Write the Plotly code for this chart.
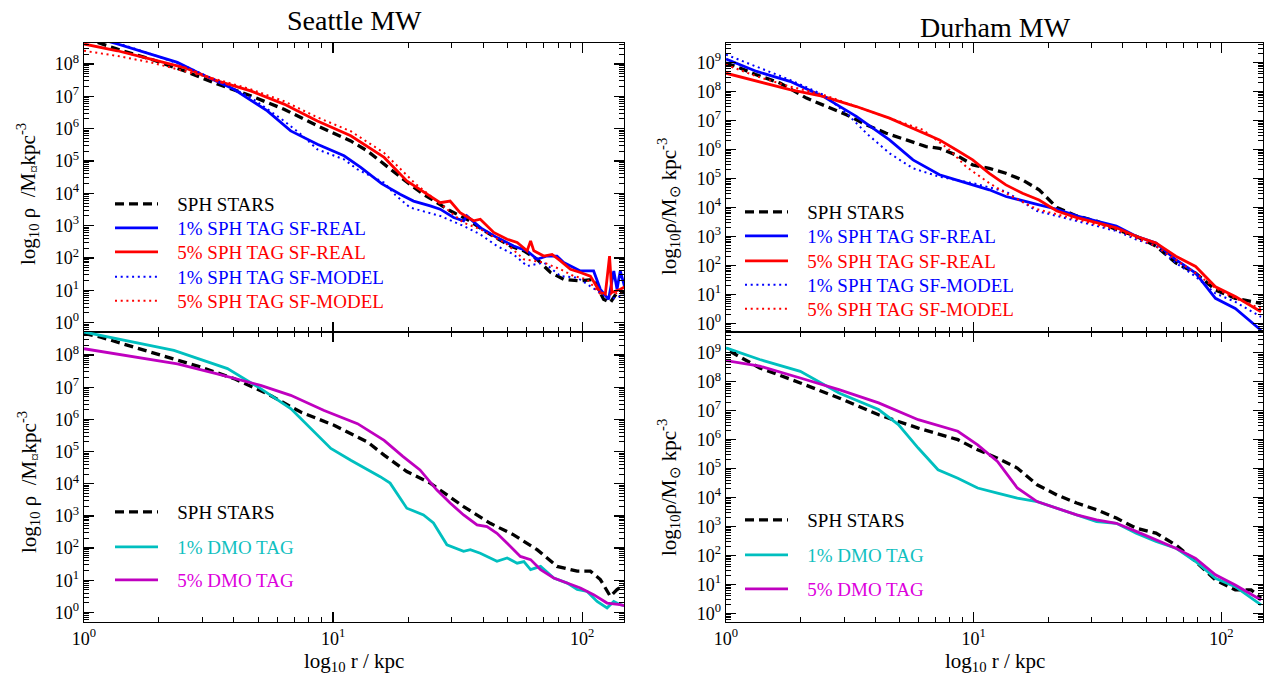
import numpy as np
import plotly.graph_objects as go

# ------------------------------------------------------------------
# DATA  (log10 r [kpc], log10 rho [Msun kpc^-3])
# ------------------------------------------------------------------
# Seattle MW - upper panel (SPH tags)
sea_top_sph_logr = [0.0, 0.054, 0.134, 0.268, 0.402, 0.535, 0.669, 0.803, 0.937, 1.071, 1.138, 1.205, 1.296, 1.363,
                    1.470, 1.537, 1.631, 1.712, 1.766, 1.819, 1.873, 1.926, 1.993, 2.046, 2.086, 2.113, 2.140, 2.177]
sea_top_sph_logrho = [8.75, 8.67, 8.46, 8.15, 7.79, 7.38, 7.02, 6.60, 6.09, 5.62, 5.31, 4.90, 4.35, 3.97,
                      3.46, 3.20, 2.73, 2.37, 2.22, 1.96, 1.55, 1.34, 1.29, 1.34, 0.72, 0.62, 0.93, 0.93]

sea_top_b1_logr = [0.0, 0.067, 0.134, 0.268, 0.375, 0.469, 0.602, 0.736, 0.830, 0.937, 1.044, 1.111, 1.195, 1.269,
                   1.323, 1.390, 1.430, 1.484, 1.524, 1.537, 1.591, 1.658, 1.725, 1.779, 1.819, 1.859, 1.899, 1.926,
                   1.993, 2.046, 2.073, 2.106, 2.127, 2.140, 2.153, 2.177]
sea_top_b1_logrho = [8.85, 8.77, 8.62, 8.31, 8.05, 7.69, 7.22, 6.55, 5.93, 5.52, 5.16, 4.80, 4.30, 3.97,
                     3.76, 3.61, 3.51, 3.25, 3.15, 3.30, 2.94, 2.63, 2.37, 2.22, 1.96, 2.06, 2.06, 1.86,
                     1.60, 1.60, 1.03, 0.72, 1.60, 1.03, 1.60, 0.93]

sea_top_r5_logr = [0.0, 0.134, 0.268, 0.402, 0.535, 0.669, 0.803, 0.937, 1.071, 1.205, 1.296, 1.363, 1.430, 1.470,
                   1.510, 1.564, 1.591, 1.645, 1.699, 1.739, 1.779, 1.793, 1.806, 1.846, 1.879, 1.913, 1.953, 1.993,
                   2.033, 2.073, 2.093, 2.110, 2.119, 2.153, 2.177]
sea_top_r5_logrho = [8.62, 8.41, 8.15, 7.89, 7.48, 7.17, 6.76, 6.24, 5.78, 5.11, 4.38, 4.04, 3.71, 3.76,
                     3.40, 3.15, 3.20, 2.79, 2.58, 2.48, 2.22, 2.53, 2.22, 2.06, 2.11, 1.91, 1.65, 1.55,
                     1.44, 0.93, 0.88, 2.06, 0.93, 1.03, 1.13]

sea_top_b1m_logr = [0.0, 0.134, 0.268, 0.402, 0.535, 0.669, 0.803, 0.870, 0.937, 1.044, 1.098, 1.205, 1.250, 1.309,
                    1.430, 1.524, 1.591, 1.658, 1.725, 1.779, 1.846, 1.913, 1.980, 2.020, 2.073, 2.113, 2.177]
sea_top_b1m_logrho = [8.90, 8.65, 8.31, 7.95, 7.48, 6.97, 6.24, 5.83, 5.36, 5.05, 4.74, 4.33, 3.95, 3.56,
                      3.30, 2.99, 2.73, 2.37, 2.11, 1.75, 1.86, 1.44, 1.39, 1.19, 0.93, 0.72, 0.88]

sea_top_r5m_logr = [0.0, 0.134, 0.268, 0.402, 0.535, 0.669, 0.803, 0.937, 1.071, 1.205, 1.330, 1.457, 1.524, 1.591,
                    1.699, 1.766, 1.846, 1.913, 1.966, 2.020, 2.073, 2.127, 2.177]
sea_top_r5m_logrho = [8.41, 8.25, 8.05, 7.79, 7.52, 7.22, 6.85, 6.35, 5.92, 5.25, 4.30, 3.51, 3.09, 2.89,
                      2.42, 1.96, 1.86, 1.65, 1.44, 1.34, 0.88, 0.88, 1.03]

# Seattle MW - lower panel (DMO tags)
sea_bot_sph_logr = [0.0, 0.067, 0.20, 0.335, 0.469, 0.602, 0.736, 0.870, 1.004, 1.138, 1.205, 1.296, 1.390, 1.524,
                    1.631, 1.725, 1.819, 1.899, 1.980, 2.033, 2.073, 2.113, 2.140, 2.177]
sea_bot_sph_logrho = [8.68, 8.56, 8.25, 7.94, 7.63, 7.27, 6.80, 6.23, 5.82, 5.30, 4.89, 4.38, 4.02, 3.29,
                      2.77, 2.41, 1.95, 1.43, 1.28, 1.28, 1.02, 0.50, 0.71, 0.91]

sea_bot_c1_logr = [0.0, 0.134, 0.361, 0.576, 0.709, 0.830, 0.910, 0.991, 1.071, 1.189, 1.229, 1.296, 1.363, 1.403,
                   1.457, 1.524, 1.551, 1.591, 1.658, 1.699, 1.739, 1.766, 1.793, 1.833, 1.886, 1.940, 1.980, 2.020,
                   2.060, 2.100, 2.127, 2.153, 2.177]
sea_bot_c1_logrho = [8.72, 8.51, 8.15, 7.58, 6.96, 6.34, 5.72, 5.10, 4.73, 4.22, 4.02, 3.24, 3.03, 2.78,
                     2.10, 1.90, 1.95, 1.84, 1.59, 1.69, 1.53, 1.58, 1.33, 1.43, 1.07, 0.91, 0.71, 0.65,
                     0.34, 0.14, 0.34, 0.24, 0.19]

sea_bot_m5_logr = [0.0, 0.134, 0.375, 0.535, 0.709, 0.830, 0.964, 1.098, 1.205, 1.280, 1.349, 1.416, 1.470, 1.524,
                   1.578, 1.618, 1.658, 1.699, 1.752, 1.793, 1.833, 1.886, 1.940, 1.993, 2.046, 2.100, 2.153, 2.177]
sea_bot_m5_logrho = [8.20, 8.04, 7.73, 7.42, 7.06, 6.75, 6.28, 5.87, 5.35, 4.85, 4.43, 3.81, 3.40, 3.03,
                     2.72, 2.67, 2.46, 2.15, 1.74, 1.64, 1.33, 1.07, 0.91, 0.76, 0.55, 0.29, 0.24, 0.19]

# Durham MW - upper panel (SPH tags)
dur_top_sph_logr = [0.0, 0.056, 0.124, 0.218, 0.325, 0.406, 0.486, 0.567, 0.647, 0.728, 0.808, 0.862, 0.929, 0.996,
                    1.063, 1.130, 1.197, 1.264, 1.336, 1.416, 1.496, 1.576, 1.656, 1.736, 1.816, 1.896, 1.976, 2.056,
                    2.12, 2.16]
dur_top_sph_logrho = [8.98, 8.81, 8.57, 8.29, 7.77, 7.48, 7.20, 6.85, 6.56, 6.33, 6.10, 6.04, 5.81, 5.47,
                      5.35, 5.18, 4.95, 4.61, 4.00, 3.71, 3.53, 3.24, 3.01, 2.67, 2.09, 1.74, 1.16, 0.87,
                      0.75, 0.70]

dur_top_b1_logr = [0.0, 0.124, 0.258, 0.392, 0.526, 0.660, 0.755, 0.862, 0.929, 1.063, 1.130, 1.176, 1.256, 1.336,
                   1.416, 1.496, 1.576, 1.656, 1.736, 1.816, 1.896, 1.976, 2.056, 2.16]
dur_top_b1_logrho = [9.12, 8.69, 8.35, 7.83, 7.14, 6.33, 5.64, 5.13, 4.95, 4.61, 4.38, 4.29, 4.11, 3.94,
                     3.71, 3.53, 3.36, 3.01, 2.78, 2.20, 1.74, 0.87, 0.52, -0.23]

dur_top_r5_logr = [0.0, 0.124, 0.258, 0.392, 0.526, 0.660, 0.755, 0.862, 0.929, 0.996, 1.063, 1.130, 1.197, 1.264,
                   1.336, 1.416, 1.496, 1.576, 1.656, 1.736, 1.816, 1.896, 1.976, 2.056, 2.16]
dur_top_r5_logrho = [8.63, 8.35, 8.06, 7.83, 7.48, 7.08, 6.73, 6.33, 5.99, 5.64, 5.18, 4.78, 4.49, 4.26,
                     3.88, 3.65, 3.48, 3.30, 3.01, 2.78, 2.32, 1.97, 1.27, 0.93, 0.41]

dur_top_b1m_logr = [0.0, 0.124, 0.258, 0.392, 0.486, 0.567, 0.660, 0.755, 0.862, 0.996, 1.130, 1.256,
                    1.336, 1.416, 1.496, 1.576, 1.656, 1.736, 1.816, 1.896, 1.976, 2.056, 2.16]
dur_top_b1m_logrho = [9.27, 8.86, 8.40, 7.89, 7.25, 6.56, 5.87, 5.35, 5.06, 4.84, 4.55, 3.88,
                      3.71, 3.53, 3.36, 3.19, 2.90, 2.67, 2.09, 1.62, 1.04, 0.75, 0.23]

dur_top_r5m_logr = [0.0, 0.056, 0.124, 0.258, 0.392, 0.526, 0.660, 0.795, 0.902, 0.969, 1.063, 1.130, 1.256, 1.336,
                    1.416, 1.496, 1.576, 1.656, 1.736, 1.816, 1.896, 1.976, 2.056, 2.16]
dur_top_r5m_logrho = [8.92, 8.75, 8.52, 8.17, 7.89, 7.48, 7.08, 6.68, 5.99, 5.41, 4.84, 4.49, 3.94, 3.77,
                      3.59, 3.42, 3.24, 2.95, 2.67, 2.20, 1.74, 1.22, 0.87, 0.52]

# Durham MW - lower panel (DMO tags)
dur_bot_sph_logr = [0.016, 0.136, 0.30, 0.456, 0.616, 0.776, 0.936, 1.016, 1.096, 1.176, 1.256, 1.336, 1.416, 1.496,
                    1.576, 1.656, 1.736, 1.816, 1.896, 1.976, 2.056, 2.12, 2.16]
dur_bot_sph_logrho = [9.05, 8.48, 7.96, 7.44, 6.86, 6.40, 6.00, 5.65, 5.36, 5.02, 4.44, 4.09, 3.81, 3.58,
                      3.29, 2.94, 2.77, 2.36, 1.79, 1.15, 0.81, 0.81, 0.52]

dur_bot_c1_logr = [0.0, 0.136, 0.30, 0.456, 0.616, 0.696, 0.776, 0.856, 0.936, 1.016, 1.096, 1.176, 1.256, 1.336,
                   1.416, 1.496, 1.576, 1.656, 1.736, 1.816, 1.896, 1.976, 2.056, 2.16]
dur_bot_c1_logrho = [9.17, 8.77, 8.36, 7.61, 7.04, 6.52, 5.71, 4.96, 4.67, 4.33, 4.15, 3.98, 3.86, 3.63,
                     3.40, 3.17, 3.11, 2.77, 2.48, 2.25, 1.79, 1.21, 0.92, 0.29]

dur_bot_m5_logr = [0.0, 0.136, 0.30, 0.456, 0.616, 0.776, 0.936, 1.016, 1.096, 1.176, 1.256, 1.336, 1.416, 1.496,
                   1.576, 1.656, 1.736, 1.816, 1.896, 1.976, 2.056, 2.16]
dur_bot_m5_logrho = [8.73, 8.54, 8.13, 7.73, 7.27, 6.69, 6.29, 5.82, 5.25, 4.33, 3.86, 3.63, 3.40, 3.23,
                     3.11, 2.83, 2.54, 2.25, 1.90, 1.33, 0.98, 0.46]

panel_titles = ["Seattle MW", "Durham MW"]
x_tick_labels = ["10<sup>0</sup>", "10<sup>1</sup>", "10<sup>2</sup>"]
x_tick_values = [1, 10, 100]

# ------------------------------------------------------------------
# LAYOUT / STYLE
# ------------------------------------------------------------------
W, H = 1264, 675
FONT = "Liberation Serif"


def fx(p):
    return p / W


def fy(p):
    return 1 - p / H


# panel geometry in pixels (left, right, top, bottom) and log10 y range
panels = {
    "sea_top": dict(ax="", box=(84, 624, 43, 332), yr=[-0.29, 8.65], ymax=8, xlab=False),
    "sea_bot": dict(ax="2", box=(84, 624, 332, 622), yr=[-0.30, 8.72], ymax=8, xlab=True),
    "dur_top": dict(ax="3", box=(726, 1263, 43, 332), yr=[-0.29, 9.67], ymax=9, xlab=False),
    "dur_bot": dict(ax="4", box=(726, 1263, 332, 622), yr=[-0.30, 9.72], ymax=9, xlab=True),
}
XR = [0.0, 2.168]

BLACK, BLUE, RED, CYAN, MAG = "#000000", "#0000ff", "#ff0000", "#00bfbf", "#bf00bf"
DASH = "9px,5px"
DOT = "2px,3.7px"
PAD = "\u00a0\u00a0\u00a0"

series = {
    "sea_top": [
        ("SPH STARS", sea_top_sph_logr, sea_top_sph_logrho, BLACK, DASH, 3.3, BLACK),
        ("1% SPH TAG SF-REAL", sea_top_b1_logr, sea_top_b1_logrho, BLUE, "solid", 2.8, BLUE),
        ("5% SPH TAG SF-REAL", sea_top_r5_logr, sea_top_r5_logrho, RED, "solid", 2.8, RED),
        ("1% SPH TAG SF-MODEL", sea_top_b1m_logr, sea_top_b1m_logrho, BLUE, DOT, 2.0, BLUE),
        ("5% SPH TAG SF-MODEL", sea_top_r5m_logr, sea_top_r5m_logrho, RED, DOT, 2.0, RED),
    ],
    "sea_bot": [
        ("SPH STARS", sea_bot_sph_logr, sea_bot_sph_logrho, BLACK, DASH, 3.3, BLACK),
        ("1% DMO TAG", sea_bot_c1_logr, sea_bot_c1_logrho, CYAN, "solid", 2.8, "#10c0c0"),
        ("5% DMO TAG", sea_bot_m5_logr, sea_bot_m5_logrho, MAG, "solid", 2.8, "#dd00dd"),
    ],
    "dur_top": [
        ("SPH STARS", dur_top_sph_logr, dur_top_sph_logrho, BLACK, DASH, 3.3, BLACK),
        ("1% SPH TAG SF-REAL", dur_top_b1_logr, dur_top_b1_logrho, BLUE, "solid", 2.8, BLUE),
        ("5% SPH TAG SF-REAL", dur_top_r5_logr, dur_top_r5_logrho, RED, "solid", 2.8, RED),
        ("1% SPH TAG SF-MODEL", dur_top_b1m_logr, dur_top_b1m_logrho, BLUE, DOT, 2.0, BLUE),
        ("5% SPH TAG SF-MODEL", dur_top_r5m_logr, dur_top_r5m_logrho, RED, DOT, 2.0, RED),
    ],
    "dur_bot": [
        ("SPH STARS", dur_bot_sph_logr, dur_bot_sph_logrho, BLACK, DASH, 3.3, BLACK),
        ("1% DMO TAG", dur_bot_c1_logr, dur_bot_c1_logrho, CYAN, "solid", 2.8, "#10c0c0"),
        ("5% DMO TAG", dur_bot_m5_logr, dur_bot_m5_logrho, MAG, "solid", 2.8, "#dd00dd"),
    ],
}

# legend entry placement (pixels): sample-line start x, item centre ys
legend_pos = {
    "sea_top": (115, [204, 228, 252, 277, 301]),
    "sea_bot": (115, [512, 547, 580]),
    "dur_top": (745, [212, 236, 261, 285, 309]),
    "dur_bot": (745, [520, 555, 589]),
}
SAMPLE_LEN = 43

fig = go.Figure()
layout = dict(
    template="none",
    width=W, height=H, margin=dict(l=0, r=0, t=0, b=0, autoexpand=False),
    paper_bgcolor="white", plot_bgcolor="white",
    font=dict(family=FONT, size=17, color="black"),
    showlegend=True,
)

legend_count = 0
for key, p in panels.items():
    ax = p["ax"]
    L, R, T, B = p["box"]
    xname, yname = "xaxis" + ax, "yaxis" + ax
    minor_x = [m * 10 ** d for d in range(0, 3) for m in range(2, 10)]
    minor_y = [m * 10 ** d for d in range(-1, p["ymax"] + 1) for m in range(2, 10)]
    layout[xname] = dict(
        type="log", range=XR, domain=[fx(L), fx(R)], anchor="y" + ax, automargin=False,
        showline=True, linecolor="black", linewidth=1.3, mirror="allticks",
        ticks="inside", ticklen=10, tickwidth=1.3, tickcolor="black",
        tickvals=x_tick_values, ticktext=x_tick_labels, showticklabels=p["xlab"],
        tickfont=dict(family=FONT, size=18), showgrid=False, zeroline=False,
        minor=dict(tickvals=minor_x, ticks="inside", ticklen=5, tickwidth=1, tickcolor="black", showgrid=False),
    )
    layout[yname] = dict(
        type="log", range=p["yr"], domain=[fy(B), fy(T)], anchor="x" + ax, automargin=False,
        showline=True, linecolor="black", linewidth=1.3, mirror="allticks",
        ticks="inside", ticklen=10, tickwidth=1.3, tickcolor="black",
        tickvals=[10 ** k for k in range(0, p["ymax"] + 1)],
        ticktext=["10<sup>%d</sup>" % k for k in range(0, p["ymax"] + 1)],
        tickfont=dict(family=FONT, size=18), showgrid=False, zeroline=False,
        minor=dict(tickvals=minor_y, ticks="inside", ticklen=5, tickwidth=1, tickcolor="black", showgrid=False),
    )
    sx, ys = legend_pos[key]
    for (name, lr, lrho, col, dash, wdt, tcol), yc in zip(series[key], ys):
        legend_count += 1
        lname = "legend" if legend_count == 1 else "legend%d" % legend_count
        fig.add_trace(go.Scatter(
            x=10 ** np.array(lr), y=10 ** np.array(lrho), mode="lines", name=PAD + name,
            line=dict(color=col, dash=dash, width=wdt), xaxis="x" + ax, yaxis="y" + ax,
            legend=lname, hoverinfo="skip",
        ))
        layout[lname] = dict(
            x=fx(sx - 5), xanchor="left", y=fy(yc), yanchor="middle",
            bgcolor="rgba(0,0,0,0)", borderwidth=0, itemwidth=SAMPLE_LEN,
            font=dict(family=FONT, size=19, color=tcol),
        )

ylab_left = "log<sub>10</sub> ρ\u00a0\u00a0/M<sub>¤</sub>kpc<sup>-3</sup>"
ylab_right = "log<sub>10</sub>ρ/M<sub>⊙</sub> kpc<sup>-3</sup>"
xlab = "log<sub>10</sub> r / kpc"


def ann(text, x, y, size, angle=0):
    return dict(text=text, x=fx(x), y=fy(y), xref="paper", yref="paper", showarrow=False, textangle=angle,
                font=dict(family=FONT, size=size, color="black"), xanchor="center", yanchor="middle")


layout["annotations"] = [
    ann(panel_titles[0], 354, 20, 28),
    ann(panel_titles[1], 995, 28, 28),
    ann(ylab_left, 28, 194, 21, -90),
    ann(ylab_left, 28, 482, 21, -90),
    ann(ylab_right, 669, 207, 21, -90),
    ann(ylab_right, 669, 488, 21, -90),
    ann(xlab, 354, 662, 21),
    ann(xlab, 995, 662, 21),
]
fig.update_layout(**layout)
fig.write_html("out.html", config={"displayModeBar": False, "staticPlot": True},
               post_script="document.body.style.margin='0px';")
